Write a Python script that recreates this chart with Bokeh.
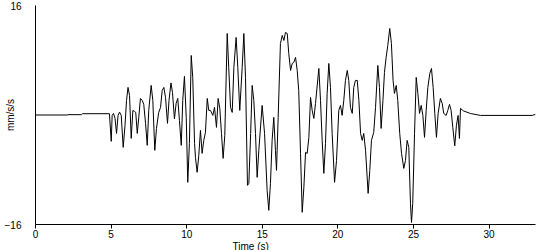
from bokeh.plotting import figure
from bokeh.models import Range1d, FixedTicker, Title
from bokeh.embed import file_html
from bokeh.resources import INLINE

# Time (s) and acceleration (mm/s/s)
time_s = [
    0.0, 2.10, 2.15, 3.04, 3.11, 4.89, 5.01, 5.07, 5.16, 5.26, 5.36, 5.46, 5.56, 5.67, 5.80, 5.92,
    6.02, 6.12, 6.22, 6.33, 6.44, 6.55, 6.63, 6.73, 6.83, 6.94, 7.06, 7.16, 7.28, 7.39, 7.49, 7.65,
    7.76, 7.89, 8.00, 8.15, 8.27, 8.38, 8.49, 8.60, 8.73, 8.83, 8.96, 9.06, 9.19, 9.30, 9.41, 9.52,
    9.64, 9.74, 9.85, 9.97, 10.07, 10.18, 10.30, 10.40, 10.52, 10.58, 10.69, 10.80, 10.91, 11.02,
    11.13, 11.24, 11.36, 11.46, 11.57, 11.73, 11.84, 11.97, 12.08, 12.19, 12.30, 12.41, 12.52,
    12.68, 12.78, 12.90, 13.01, 13.12, 13.27, 13.38, 13.51, 13.67, 13.78, 13.89, 14.02, 14.11,
    14.23, 14.33, 14.44, 14.55, 14.66, 14.77, 14.99, 15.15, 15.32, 15.43, 15.54, 15.65, 15.76,
    15.87, 15.94, 16.05, 16.20, 16.32, 16.43, 16.53, 16.65, 16.75, 16.87, 16.98, 17.08, 17.20,
    17.31, 17.41, 17.53, 17.64, 17.75, 17.86, 17.97, 18.08, 18.19, 18.30, 18.41, 18.52, 18.74,
    18.85, 18.96, 19.07, 19.18, 19.29, 19.40, 19.51, 19.62, 19.78, 19.91, 20.06, 20.17, 20.28,
    20.39, 20.50, 20.62, 20.72, 20.83, 20.95, 21.05, 21.16, 21.28, 21.39, 21.50, 21.61, 21.71,
    21.83, 22.00, 22.11, 22.22, 22.37, 22.49, 22.64, 22.75, 22.86, 22.98, 23.08, 23.19, 23.30,
    23.43, 23.54, 23.65, 23.74, 23.86, 23.96, 24.09, 24.21, 24.36, 24.47, 24.58, 24.69, 24.80,
    24.87, 24.95, 25.07, 25.18, 25.29, 25.40, 25.51, 25.62, 25.73, 25.84, 25.95, 26.08, 26.19,
    26.30, 26.41, 26.52, 26.63, 26.78, 26.90, 27.00, 27.16, 27.27, 27.38, 27.49, 27.60, 27.73,
    27.84, 27.95, 28.04, 28.11, 28.30, 28.77, 29.43, 32.85, 33.07,
]
accel_mm_s2 = [
    0.0, 0.0, 0.05, 0.05, 0.19, 0.19, -3.85, -0.06, 0.23, -0.5, -2.69, -0.06, 0.42, -0.06, -4.73, -1.52,
    2.13, 4.03, 2.86, -3.42, 0.67, 0.53, 0.38, -2.69, -0.35, 2.42, 2.13, 1.55, -1.22, -4.44, 0.67, 4.32,
    2.13, -5.17, -1.96, 0.38, 1.11, 3.59, 4.03, 2.57, -1.22, 2.13, 4.69, 3.30, -0.57, 1.69, 2.42, -0.79,
    -4.44, 2.13, 5.64, -0.35, -9.84, -4.15, 8.70, 5.49, -4.15, -6.19, -8.38, -5.90, -2.25, -5.61,
    -3.71, -2.54, 2.42, 0.67, 0.67, -0.06, 1.11, -1.81, 2.42, 0.96, -2.69, -6.34, -2.98,
    11.91, 6.95, 1.11, 0.38, 6.95, 11.33, 6.95, 0.67, 6.95, 11.91, 5.49, -10.28, -10.0,
    -2.69, 4.32, 2.13, -2.69, -9.11, -5.17, 1.40, -2.69, -11.01, -13.93, -9.99, -3.71, -0.35,
    -5.17, -8.09, -0.35, 10.45, 11.62, 10.89, 12.06, 11.91, 8.99, 6.51, 7.53, 7.68, 8.41,
    6.51, 3.59, -5.61, -14.22, -10.57, -5.46, -5.61, -3.27, 2.57, 0.67, -0.50, 1.69, 6.80,
    2.13, -3.71, -8.53, -4.15, 3.15, 7.53, 4.03, -2.69, -9.84, -6.63, 0.67, 1.40, -0.06,
    2.13, 5.05, 6.51, 5.05, 1.11, 0.23, 4.03, 5.05, 5.05, 2.13, -2.69, -3.71, -2.69,
    -5.17, -11.45, -8.09, -3.71, -2.54, 1.11, 7.24, 4.03, -1.96, 2.13, 6.22, 8.41, 10.16,
    12.64, 10.45, 5.05, 3.15, 4.32, 2.13, -2.69, -5.61, -7.80, -6.63, -3.71, -4.73, -12.90,
    -15.71, -12.90, -2.69, 5.49, 3.15, 0.23, 1.40, -0.06, -3.27, 0.67, 4.03, 6.07, 6.80,
    4.03, 0.23, -3.27, 0.23, 2.42, 1.69, 0.23, -0.06, 0.67, 1.55, 0.67, -1.81, -4.50,
    -1.52, -0.06, -3.42, 0.96, 0.60, 0.22, -0.06, -0.06, 0.09,
]
x_ticks = [0, 5, 10, 15, 20, 25, 30]
y_ticks = [-16, 16]
x_label = "Time (s)"
y_label = "mm/s/s"

FONT = "Liberation Sans"

p = figure(width=550, height=250, output_backend="svg", toolbar_location=None,
           x_range=Range1d(0, 33.07), y_range=Range1d(-16, 16),
           min_border_left=35, min_border_right=15, min_border_top=5, min_border_bottom=26)
p.outline_line_color = None
p.xgrid.visible = False
p.ygrid.visible = False
p.background_fill_color = "white"
p.border_fill_color = "white"

p.line(time_s, accel_mm_s2, line_color="black", line_width=1)

xa = p.xaxis[0]
xa.ticker = FixedTicker(ticks=x_ticks)
xa.major_tick_out = 4
xa.major_tick_in = 0
xa.minor_tick_line_color = None
xa.major_label_standoff = 1
xa.major_label_text_font = FONT
xa.major_label_text_font_size = "10px"
xa.major_label_text_color = "black"
xa.axis_line_color = "black"
xa.major_tick_line_color = "black"

ya = p.yaxis[0]
ya.ticker = FixedTicker(ticks=y_ticks)
ya.major_tick_out = 0
ya.major_tick_in = 0
ya.minor_tick_line_color = None
ya.major_label_standoff = 14
ya.major_label_text_font = FONT
ya.major_label_text_font_size = "10px"
ya.major_label_text_color = "black"
ya.axis_line_color = "black"
ya.axis_label = y_label
ya.axis_label_standoff = -14
ya.axis_label_text_font = FONT
ya.axis_label_text_font_size = "10px"
ya.axis_label_text_font_style = "normal"
ya.axis_label_text_color = "black"

t = Title(text=x_label, align="left", offset=197, standoff=-4,
          text_font=FONT, text_font_size="10px", text_font_style="normal",
          text_color="black")
p.add_layout(t, "below")

open("out.html", "w").write(file_html(p, INLINE))
